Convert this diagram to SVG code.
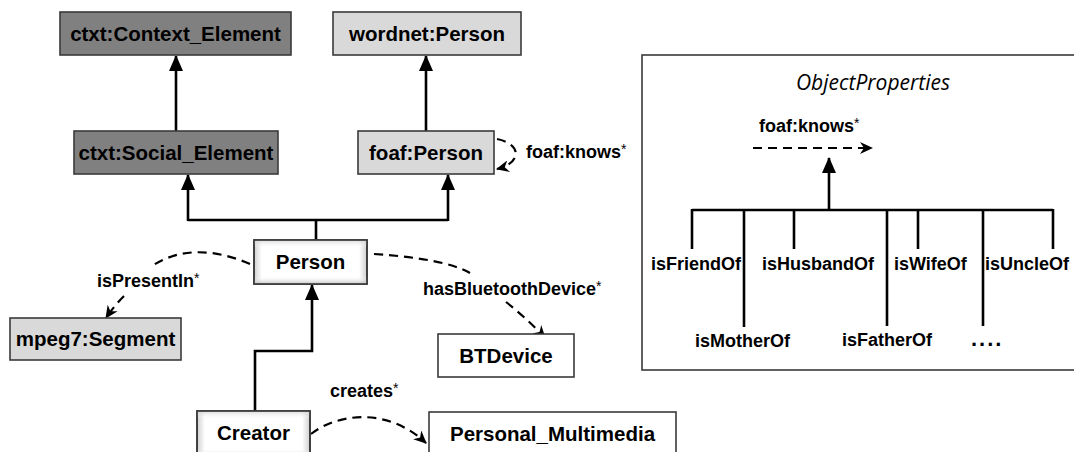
<svg xmlns="http://www.w3.org/2000/svg" width="1074" height="452" viewBox="0 0 1074 452">
<style>
.node rect{stroke:#3a3a3a;stroke-width:1.6}
.dark{fill:#808080}
.light{fill:#d9d9d9}
.white{fill:#ffffff}
.nt{font-family:"Liberation Sans",Arial,sans-serif;font-weight:bold;font-size:20.5px;fill:#000;text-anchor:middle}
.lbl{font-family:"Liberation Sans",Arial,sans-serif;font-weight:bold;font-size:18px;fill:#000}
.ast{font-weight:normal;font-size:14px}
.solid{fill:none;stroke:#000;stroke-width:2.6}
.dash{fill:none;stroke:#000;stroke-width:2.2;stroke-dasharray:9 6}
.title{font-family:"Open Sans","Liberation Sans",sans-serif;font-style:italic;font-size:21px;fill:#000;text-anchor:middle}
</style>
<defs>
<marker id="tri" markerUnits="userSpaceOnUse" markerWidth="16" markerHeight="14" refX="15" refY="7" orient="auto">
<path d="M0,0 L16,7 L0,14 z" fill="#000"/>
</marker>
<marker id="open" markerUnits="userSpaceOnUse" markerWidth="13" markerHeight="12" refX="12" refY="6" orient="auto">
<path d="M0,0 L13,6 L0,12 L4,6 z" fill="#000"/>
</marker>
<linearGradient id="bevH" x1="0" y1="0" x2="1" y2="0">
<stop offset="0" stop-color="#cfcfcf"/><stop offset="0.07" stop-color="#fff"/><stop offset="0.93" stop-color="#fff"/><stop offset="1" stop-color="#cfcfcf"/>
</linearGradient>
<linearGradient id="bevV" x1="0" y1="0" x2="0" y2="1">
<stop offset="0" stop-color="#cfcfcf" stop-opacity="0.8"/><stop offset="0.18" stop-color="#fff" stop-opacity="0"/><stop offset="0.82" stop-color="#fff" stop-opacity="0"/><stop offset="1" stop-color="#bdbdbd" stop-opacity="0.9"/>
</linearGradient>
</defs>

<g id="connectors">
<path class="solid" d="M176,131 V56" marker-end="url(#tri)"/>
<path class="solid" d="M426,131 V56" marker-end="url(#tri)"/>
<path class="solid" d="M316,240 V220 M188,220 H448"/>
<path class="solid" d="M188,221 V175" marker-end="url(#tri)"/>
<path class="solid" d="M448,221 V175" marker-end="url(#tri)"/>
<path class="solid" d="M255,411 V351 H312 V285" marker-end="url(#tri)"/>
<path class="dash" d="M497,139 C522,144 522,163 497,169" marker-end="url(#open)"/>
<path class="dash" d="M250,264 C218,250 182,246 152,266"/>
<path class="dash" d="M124,296 Q114,306 106,318" marker-end="url(#open)"/>
<path class="dash" d="M374,254 C420,257 452,263 470,273"/>
<path class="dash" d="M506,302 C520,313 533,325 545,338" marker-end="url(#open)"/>
<path class="dash" d="M311,434 C335,415 385,405 426,443" marker-end="url(#open)"/>
</g>

<g id="n-context" class="node"><rect class="dark" x="60" y="12" width="231" height="43"/><text class="nt" x="175.5" y="40.5">ctxt:Context_Element</text></g>
<g id="n-wordnet" class="node"><rect class="light" x="333" y="12" width="188" height="43"/><text class="nt" x="427" y="40.5">wordnet:Person</text></g>
<g id="n-social" class="node"><rect class="dark" x="74" y="131" width="204" height="43"/><text class="nt" x="176" y="159.5">ctxt:Social_Element</text></g>
<g id="n-foaf" class="node"><rect class="light" x="358" y="131" width="136" height="43"/><text class="nt" x="426" y="159.5">foaf:Person</text></g>
<g id="n-person" class="node"><rect x="254" y="240" width="113" height="44" fill="url(#bevH)"/><rect x="254" y="240" width="113" height="44" fill="url(#bevV)"/><text class="nt" x="310.5" y="269">Person</text></g>
<g id="n-mpeg7" class="node"><rect class="light" x="10" y="318" width="171" height="42"/><text class="nt" x="95.5" y="346">mpeg7:Segment</text></g>
<g id="n-bt" class="node"><rect class="white" x="438" y="334" width="136" height="43"/><text class="nt" x="506" y="362.5">BTDevice</text></g>
<g id="n-creator" class="node"><rect x="197" y="411" width="113" height="46" fill="url(#bevH)"/><rect x="197" y="411" width="113" height="46" fill="url(#bevV)"/><text class="nt" x="253.5" y="440">Creator</text></g>
<g id="n-pm" class="node"><rect class="white" x="429" y="412" width="247" height="45"/><text class="nt" x="552.5" y="441">Personal_Multimedia</text></g>

<g id="labels">
<text class="lbl" x="526" y="158">foaf:knows<tspan class="ast" dy="-4">*</tspan></text>
<text class="lbl" x="97" y="287">isPresentIn<tspan class="ast" dy="-4">*</tspan></text>
<text class="lbl" x="423" y="295">hasBluetoothDevice<tspan class="ast" dy="-4">*</tspan></text>
<text class="lbl" x="330" y="397">creates<tspan class="ast" dy="-4">*</tspan></text>
</g>

<g id="objectproperties">
<rect x="642" y="55" width="440" height="315" fill="#fff" stroke="#3a3a3a" stroke-width="1.6"/>
<text class="title" x="873" y="90">ObjectProperties</text>
<text class="lbl" x="759" y="132">foaf:knows<tspan class="ast" dy="-4">*</tspan></text>
<path class="dash" d="M753,148 H872" marker-end="url(#open)"/>
<path class="solid" d="M829,210 V158" marker-end="url(#tri)"/>
<path class="solid" d="M692,210 H1053 M692,209 V249 M744,210 V327 M794,210 V249 M887,210 V326 M918,210 V249 M983,210 V326 M1053,209 V249"/>
<text class="lbl" x="651" y="270">isFriendOf</text>
<text class="lbl" x="762" y="270">isHusbandOf</text>
<text class="lbl" x="894" y="270">isWifeOf</text>
<text class="lbl" x="985" y="270">isUncleOf</text>
<text class="lbl" x="695" y="347">isMotherOf</text>
<text class="lbl" x="842" y="346">isFatherOf</text>
<text class="lbl" x="971" y="346" style="font-size:22px;letter-spacing:2px">....</text>
</g>
</svg>
